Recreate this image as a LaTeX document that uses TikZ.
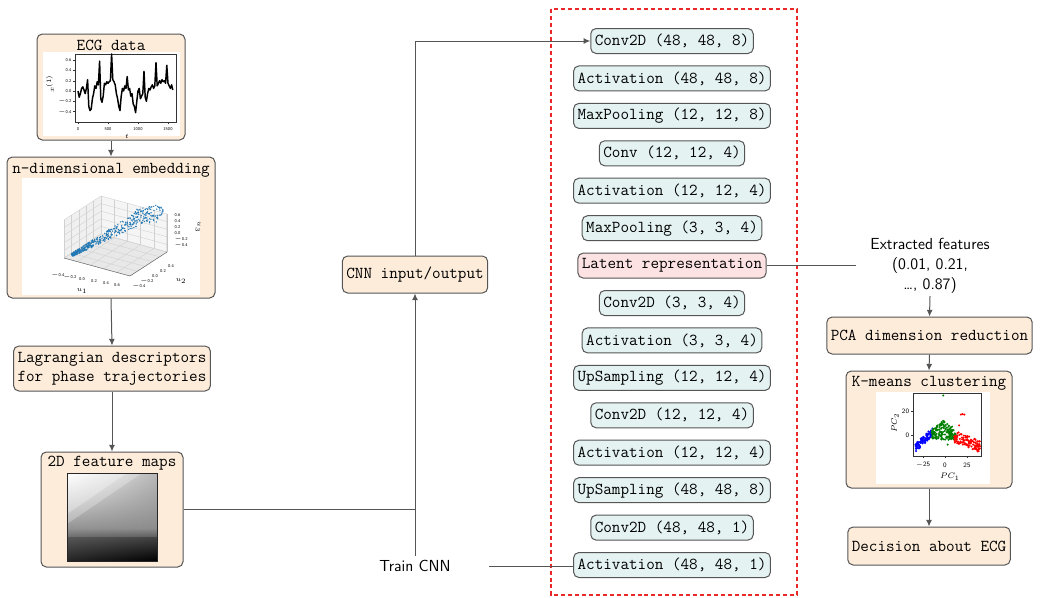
\documentclass[tikz,border=0pt]{standalone}
\usepackage{fontspec}
\usetikzlibrary{arrows.meta,fit,calc,shadings}
\definecolor{peach}{RGB}{253,236,218}
\definecolor{layerc}{RGB}{228,242,242}
\definecolor{latentc}{RGB}{252,226,226}
\definecolor{edge}{RGB}{85,85,85}
\definecolor{ptblue}{RGB}{31,119,180}
\definecolor{kblue}{RGB}{0,0,255}
\definecolor{kgreen}{RGB}{0,128,0}
\definecolor{kred}{RGB}{255,0,0}
\definecolor{dashred}{RGB}{235,40,40}
\begin{document}
\begin{tikzpicture}[x=0.75pt,y=-0.75pt,
  box/.style={draw=edge, line width=0.75pt, rounded corners=4pt, fill=peach,
    font=\ttfamily\fontsize{12.5}{14.25}\selectfont, inner xsep=3pt, inner ysep=0pt, align=center},
  layerbox/.style={box, fill=layerc, minimum height=18.75pt},
  latentbox/.style={layerbox, fill=latentc},
  tbox/.style={box, minimum height=27.75pt},
  imgbox/.style={box, inner sep=0pt},
  ttl/.style={font=\ttfamily\fontsize{12.5}{14.25}\selectfont, inner sep=0pt},
  sanstxt/.style={font=\sffamily\fontsize{12}{15}\selectfont, align=center},
  conn/.style={draw=edge, line width=0.75pt},
  arr/.style={conn, -{Latex[length=5pt,width=4.5pt]}},
  tk/.style={font=\sffamily\fontsize{3.2}{3.6}\selectfont, inner sep=0.3pt},
  ktk/.style={font=\sffamily\fontsize{5}{6}\selectfont, inner sep=0.5pt},
  grid3d/.style={draw=black!18, line width=0.3pt},
]
\useasboundingbox (0,0) rectangle (1042,597);

% ---------------- left column boxes ----------------
\node[imgbox, fit={(37,34) (185,140)}] (ecg) {};
\node[imgbox, fit={(7,157) (215,298)}] (emb) {};
\node[tbox, minimum height=33.75pt] (lag) at (112,368.5) {Lagrangian descriptors\\for phase trajectories};
\node[imgbox, fit={(41,452) (183,567)}] (maps) {};

% ECG image
\fill[white] (43,52) rectangle (180,136);
\node[ttl] at (111,45) {ECG data};
\draw[black!80, line width=0.5pt] (75,54) rectangle (176,122);
\foreach \v/\l in {0.6/{0.6},0.4/{0.4},0.2/{0.2},0.0/{0.0},-0.2/{$-$0.2},-0.4/{$-$0.4}}{
  \draw[black!80, line width=0.3pt] (73,{91-51.5*\v}) -- (75,{91-51.5*\v});
  \node[tk, anchor=east] at (72,{91-51.5*\v}) {\l};
}
\foreach \t in {0,500,1000,1500}{
  \draw[black!80, line width=0.3pt] ({78+0.06*\t},122) -- ({78+0.06*\t},124);
  \node[tk] at ({78+0.06*\t},129) {\t};
}
\node[tk] at (127,136) {$t$};
\node[tk, rotate=90] at (50,84) {$x^{(1)}$};
\begin{scope}[shift={(58.5pt,-68.25pt)}, x=0.045pt, y=38.625pt]
\draw[black, line width=1.1pt, line join=round] plot coordinates {
(0,0.00) (20,-0.12) (40,-0.05) (60,0.05) (80,0.08) (100,0.02) (120,-0.05) (140,0.05)
(160,0.22) (180,-0.30) (200,-0.38) (220,-0.35) (240,-0.15) (260,-0.05) (280,0.10) (300,0.05)
(320,0.18) (340,0.12) (360,0.58) (380,-0.15) (400,-0.22) (420,-0.10) (440,0.15) (460,0.12)
(480,0.18) (500,0.15) (520,0.18) (540,0.20) (560,0.72) (580,0.22) (600,0.18) (620,0.12)
(640,-0.05) (660,-0.15) (680,-0.30) (700,-0.38) (720,-0.10) (740,0.05) (760,0.00) (780,0.10)
(800,0.05) (820,0.28) (840,0.02) (860,0.05) (880,-0.10) (900,-0.05) (920,-0.25) (940,-0.30)
(960,-0.42) (980,-0.20) (1000,0.00) (1020,0.05) (1040,-0.15) (1060,-0.10) (1080,-0.05) (1100,0.38)
(1120,-0.12) (1140,-0.20) (1160,-0.05) (1180,0.05) (1200,0.02) (1220,0.08) (1240,0.12) (1260,0.05)
(1280,0.10) (1300,0.55) (1320,0.10) (1340,0.15) (1360,0.20) (1380,0.15) (1400,0.22) (1420,0.18)
(1440,0.20) (1460,0.15) (1480,0.50) (1500,0.15) (1520,0.10) (1540,0.05) (1560,0.12) (1580,0.02)};
\end{scope}

% embedding image
\fill[white] (22,178) rectangle (200,295);
\node[ttl] at (111,170) {n-dimensional embedding};
\coordinate (FL) at (64,258); \coordinate (FB) at (130,276);
\coordinate (FR) at (167,252); \coordinate (BB) at (101,234);
\coordinate (FLt) at (64,220); \coordinate (BBt) at (101,196); \coordinate (FRt) at (167,214);
\fill[black!6] (FL) -- (BB) -- (BBt) -- (FLt) -- cycle;
\fill[black!4] (BB) -- (FR) -- (FRt) -- (BBt) -- cycle;
\fill[black!9] (FL) -- (FB) -- (FR) -- (BB) -- cycle;
\foreach \f in {0,0.2,0.4,0.6,0.8,1}{
  \draw[grid3d] ($(FL)!\f!(BB)$) -- ($(FLt)!\f!(BBt)$);
  \draw[grid3d] ($(FL)!\f!(FLt)$) -- ($(BB)!\f!(BBt)$);
  \draw[grid3d] ($(BB)!\f!(FR)$) -- ($(BBt)!\f!(FRt)$);
  \draw[grid3d] ($(BB)!\f!(BBt)$) -- ($(FR)!\f!(FRt)$);
  \draw[grid3d] ($(FL)!\f!(BB)$) -- ($(FB)!\f!(FR)$);
  \draw[grid3d] ($(FL)!\f!(FB)$) -- ($(BB)!\f!(FR)$);
}
\draw[black!60, line width=0.35pt] (FL) -- (FB) -- (FR) -- (FRt);
\pgfmathsetseed{12}
\foreach \i in {1,...,380}{
  \pgfmathsetmacro{\tt}{rnd^1.5}
  \pgfmathsetmacro{\ss}{rand*(1.5+6*\tt)}
  \fill[ptblue] ({72+76*\tt+0.49*\ss},{255-42*\tt+0.87*\ss}) circle (0.55pt);
}
\foreach \a in {0,12,...,348}{
  \fill[ptblue] ({155+8*cos(\a)+0.8*rand},{211+5*sin(\a)+0.8*rand}) circle (0.55pt);
}
\foreach \i in {1,...,35}{
  \fill[ptblue] ({132+28*rnd},{207+16*rnd}) circle (0.55pt);
}
\foreach \x/\l in {58/{$-$0.4},70/{$-$0.2},82/{0.0},94/{0.2},106/{0.4},117/{0.6}}{
  \node[tk] at (\x,{275+(\x-58)*0.17}) {\l};
}
\node[tk] at (82,291) {$u_1$};
\foreach \x/\y/\l in {139/286/{$-$0.4},147/281/{$-$0.2},155/276/{0.0},163/271/{0.2},171/266/{0.4}}{
  \node[tk] at (\x,\y) {\l};
}
\node[tk] at (181,281) {$u_2$};
\foreach \y/\l in {215/{0.6},221/{0.4},227/{0.2},233/{0.0},239/{$-$0.2},245/{$-$0.4}}{
  \node[tk, anchor=west] at (174,\y) {\l};
}
\node[tk, rotate=-90] at (198,227) {$u_3$};

% feature map image
\node[ttl] at (112,463) {2D feature maps};
\shade[upper left=white, upper right=black!28, lower left=black!42, lower right=black!45] (67,473) rectangle (157,528);
\fill[white, opacity=0.45] (67,473) -- (127,473) -- (67,514) -- cycle;
\fill[white, opacity=0.25] (67,514) -- (127,473) -- (142,473) -- (67,524) -- cycle;
\shade[upper left=black!42, upper right=black!45, lower left=black!58, lower right=black!64] (67,528) rectangle (157,537);
\shade[upper left=black!66, upper right=black!74, lower left=black!86, lower right=black] (67,537) rectangle (157,561);
\draw[black!85, line width=0.6pt] (67,473) rectangle (157,561);

% ---------------- middle ----------------
\node[tbox] (cnn) at (415,274.5) {CNN input/output};
\node[sanstxt, minimum width=111pt] (train) at (415,566) {Train CNN};

\draw[dashred, line width=0.8pt, dash pattern=on 3pt off 2.2pt] (551,9) rectangle (797,595);

\node[layerbox] (l1) at (672,41) {Conv2D (48, 48, 8)};
\node[layerbox] (l2) at (672,78.4) {Activation (48, 48, 8)};
\node[layerbox] (l3) at (672,115.9) {MaxPooling (12, 12, 8)};
\node[layerbox] (l4) at (672,153.3) {Conv (12, 12, 4)};
\node[layerbox] (l5) at (672,190.7) {Activation (12, 12, 4)};
\node[layerbox] (l6) at (672,228.2) {MaxPooling (3, 3, 4)};
\node[latentbox] (l7) at (672,265.6) {Latent representation};
\node[layerbox] (l8) at (672,303) {Conv2D (3, 3, 4)};
\node[layerbox] (l9) at (672,340.4) {Activation (3, 3, 4)};
\node[layerbox] (l10) at (672,377.9) {UpSampling (12, 12, 4)};
\node[layerbox] (l11) at (672,415.3) {Conv2D (12, 12, 4)};
\node[layerbox] (l12) at (672,452.7) {Activation (12, 12, 4)};
\node[layerbox] (l13) at (672,490.2) {UpSampling (48, 48, 8)};
\node[layerbox] (l14) at (672,527.6) {Conv2D (48, 48, 1)};
\node[layerbox] (l15) at (672,565) {Activation (48, 48, 1)};

% ---------------- right column ----------------
\node[sanstxt, inner xsep=11pt, inner ysep=2pt] (feat) at (930,265.6) {Extracted features\\(0.01, 0.21,\\\ldots, 0.87)};
\node[tbox] (pca) at (929.5,335.5) {PCA dimension reduction};
\node[imgbox, fit={(846,371) (1012,488)}] (km) {};
\node[tbox, minimum height=28.5pt] (dec) at (929,546) {Decision about ECG};

% k-means image
\fill[white] (876,392) rectangle (990,484);
\node[ttl] at (929,383) {K-means clustering};
\begin{scope}[shift={(708.75pt,-326.25pt)}, x=0.66pt, y=0.9pt]
\pgfmathsetseed{5}
\foreach \i in {1,...,90}{
  \pgfmathsetmacro{\X}{-34+20*rnd}
  \pgfmathsetmacro{\Y}{-11+0.7*(\X+34)+3.5*rand}
  \fill[kblue] (\X,\Y) circle (0.85pt);
}
\foreach \i in {1,...,170}{
  \pgfmathsetmacro{\X}{-15+28*rnd}
  \pgfmathsetmacro{\Y}{-4+rnd*(16-0.6*abs(\X+2))}
  \fill[kgreen] (\X,\Y) circle (0.85pt);
}
\fill[kgreen] (-2,33) circle (0.85pt) (3,-8) circle (0.85pt) (8,7) circle (0.85pt);
\foreach \i in {1,...,120}{
  \pgfmathsetmacro{\X}{10+30*rnd^0.8}
  \pgfmathsetmacro{\Y}{4-0.3*(\X-10)-10*rnd}
  \fill[kred] (\X,\Y) circle (0.85pt);
}
\fill[kred] (18,17) circle (0.85pt) (20,17.5) circle (0.85pt) (22,17) circle (0.85pt) (16,8) circle (0.85pt);
\end{scope}
\draw[black!80, line width=0.5pt] (913,393) rectangle (981,456);
\foreach \Y/\l in {20/{20},0/{0}}{
  \draw[black!80, line width=0.3pt] (911,{435-1.2*\Y}) -- (913,{435-1.2*\Y});
  \node[ktk, anchor=east] at (910,{435-1.2*\Y}) {\l};
}
\foreach \X/\l in {-25/{$-$25},0/{0},25/{25}}{
  \draw[black!80, line width=0.3pt] ({945+0.88*\X},456) -- ({945+0.88*\X},458);
  \node[ktk] at ({945+0.88*\X},465) {\l};
}
\node[ktk, font=\sffamily\fontsize{6}{7}\selectfont] at (950,477) {$PC_1$};
\node[ktk, font=\sffamily\fontsize{6}{7}\selectfont, rotate=90] at (895,423) {$PC_2$};

% ---------------- connectors ----------------
\draw[arr] (ecg.south) -- (emb.north);
\draw[arr] (emb.south) -- (lag.north);
\draw[arr] (lag.south) -- (maps.north);
\draw[conn] (maps.east) -- (maps.east -| train.north);
\draw[arr] (train.north) -- (cnn.south);
\draw[arr] (cnn.north) |- (l1.west);
\draw[conn] (train.east) -- (train.east -| l15.west);
\draw[conn] (l7.east) -- (feat.west);
\draw[arr] (feat.south) -- (pca.north);
\draw[arr] (pca.south) -- (km.north);
\draw[arr] (km.south) -- (dec.north);
\end{tikzpicture}
\end{document}
